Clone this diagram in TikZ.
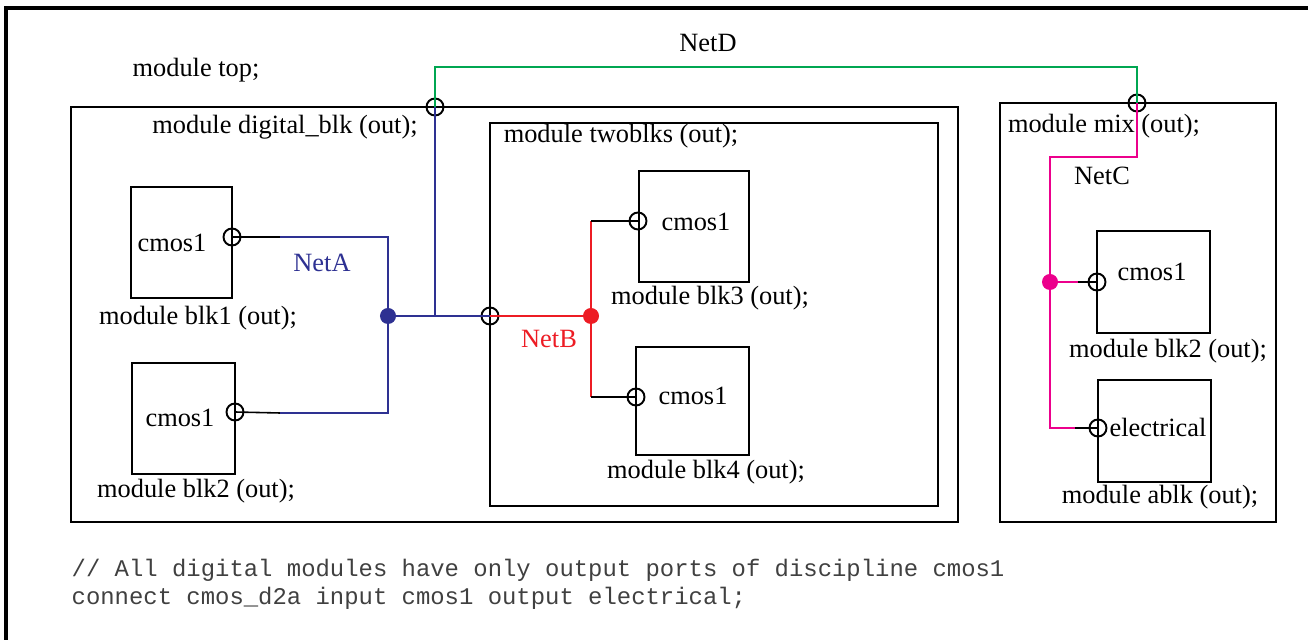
\documentclass[tikz,border=0pt]{standalone}
\usepackage{fontspec}
\setmainfont{Liberation Serif}
\setmonofont{Liberation Mono}
\definecolor{netblue}{RGB}{46,49,146}
\definecolor{netred}{RGB}{237,28,36}
\definecolor{netgreen}{RGB}{0,166,81}
\definecolor{netpink}{RGB}{236,0,140}
\tikzset{
	modbox/.style={rectangle, draw=black, line width=0.55pt, inner sep=0pt},
	port/.style={circle, draw=black, line width=0.55pt, minimum size=0.17cm, inner sep=0pt},
	joint/.style={circle, minimum size=0.16cm, inner sep=0pt},
	txt/.style={inner sep=0pt, font=\fontsize{7.5}{9}\selectfont},
	code/.style={inner sep=0pt, anchor=west, text=black!75, font=\ttfamily\fontsize{6.8}{8}\selectfont},
	wire/.style={line width=0.45pt, color=black},
	netA/.style={line width=0.45pt, color=netblue},
	netB/.style={line width=0.45pt, color=netred},
	netC/.style={line width=0.45pt, color=netpink},
	netD/.style={line width=0.45pt, color=netgreen}
}
\begin{document}
\begin{tikzpicture}[x=0.01cm, y=-0.01cm]
		\useasboundingbox (0,0) rectangle (1308,640);
		\draw[line width=0.9pt] (6,640) |- (1308,8);

		% module boxes
		\node[modbox, minimum width=8.87cm, minimum height=4.15cm](digital) at (514.5,314.5){};
		\node[modbox, minimum width=4.48cm, minimum height=3.83cm](twoblks) at (714,314.5){};
		\node[modbox, minimum width=1.01cm, minimum height=1.11cm](blkone) at (181.5,242.5){};
		\node[modbox, minimum width=1.03cm, minimum height=1.11cm](blktwo) at (183.5,418.5){};
		\node[modbox, minimum width=1.10cm, minimum height=1.11cm](blkthree) at (694,226.5){};
		\node[modbox, minimum width=1.13cm, minimum height=1.08cm](blkfour) at (692.5,401){};
		\node[modbox, minimum width=2.76cm, minimum height=4.19cm](mix) at (1138,312.5){};
		\node[modbox, minimum width=1.13cm, minimum height=1.02cm](mixblktwo) at (1153.5,282){};
		\node[modbox, minimum width=1.13cm, minimum height=1.02cm](ablk) at (1154.5,431){};

		% ports
		\node[port](digitalPort) at (435,107){};
		\node[port](twoblksPort) at (490,316){};
		\node[port](blkonePort) at (232,237){};
		\node[port](blktwoPort) at (235,412){};
		\node[port](blkthreePort) at (638,221){};
		\node[port](blkfourPort) at (636,397){};
		\node[port](mixPort) at (1137,103){};
		\node[port](mixblktwoPort) at (1097,282){};
		\node[port](ablkPort) at (1098,428){};

		% junctions
		\node[joint, fill=netblue](jointA) at (388,316){};
		\node[joint, fill=netred](jointB) at (591,316){};
		\node[joint, fill=netpink](jointC) at (1050,282){};

		\coordinate (aTop) at (280,237);
		\coordinate (aBot) at (280,413);
		\coordinate (bTop) at (591,221);
		\coordinate (bBot) at (591,397);
		\coordinate (cMid) at (1078,282);
		\coordinate (cBot) at (1075,428);

		% NetA
		\draw[wire] (blkonePort.center) -- (aTop);
		\draw[wire] (blktwoPort.center) -- (aBot);
		\draw[netA] (aTop) -| (jointA.center) |- (aBot);
		\draw[netA] (jointA.center) -- (twoblksPort.center);
		\draw[netA] (digitalPort.center) -- (digitalPort.center |- jointA.center);

		% NetB
		\draw[netB] (twoblksPort.center) -- (jointB.center);
		\draw[netB] (bTop) -- (bBot);
		\draw[wire] (bTop) -- (blkthreePort.center);
		\draw[wire] (bBot) -- (blkfourPort.center);

		% NetC
		\draw[netC] (mixPort.center) -- ++(0,54) -| (jointC.center) |- (cBot);
		\draw[netC] (jointC.center) -- (cMid);
		\draw[wire] (cMid) -- (mixblktwoPort.center);
		\draw[wire] (cBot) -- (ablkPort.center);

		% NetD
		\draw[netD] (digitalPort.center) -- ++(0,-40) -| (mixPort.center);

		% texts
		\node[txt](topLabel) at (196,70){module top;};
		\node[txt](netDLabel) at (708,43){NetD};
		\node[txt](digitalLabel) at (285,127){module digital\_blk (out);};
		\node[txt](twoblksLabel) at (621,136){module twoblks (out);};
		\node[txt](blkoneText) at (172,243){cmos1};
		\node[txt](blkoneLabel) at (198,318){module blk1 (out);};
		\node[txt](blktwoText) at (180,418){cmos1};
		\node[txt](blktwoLabel) at (196,491){module blk2 (out);};
		\node[txt, text=netblue](netALabel) at (322,263){NetA};
		\node[txt, text=netred](netBLabel) at (549,339){NetB};
		\node[txt](blkthreeText) at (696,222){cmos1};
		\node[txt](blkthreeLabel) at (710,298){module blk3 (out);};
		\node[txt](blkfourText) at (693,396){cmos1};
		\node[txt](blkfourLabel) at (706,472){module blk4 (out);};
		\node[txt](mixLabel) at (1104,126){module mix (out);};
		\node[txt](netCLabel) at (1102,176){NetC};
		\node[txt](mixblktwoText) at (1152,272){cmos1};
		\node[txt](mixblktwoLabel) at (1168,351){module blk2 (out);};
		\node[txt](ablkText) at (1158,427){electrical};
		\node[txt](ablkLabel) at (1160,497){module ablk (out);};

		\node[code](codeOne) at (71,570){// All digital modules have only output ports of discipline cmos1};
		\node[code](codeTwo) at (71,598){connect cmos\_d2a input cmos1 output electrical;};
	\end{tikzpicture}
\end{document}
